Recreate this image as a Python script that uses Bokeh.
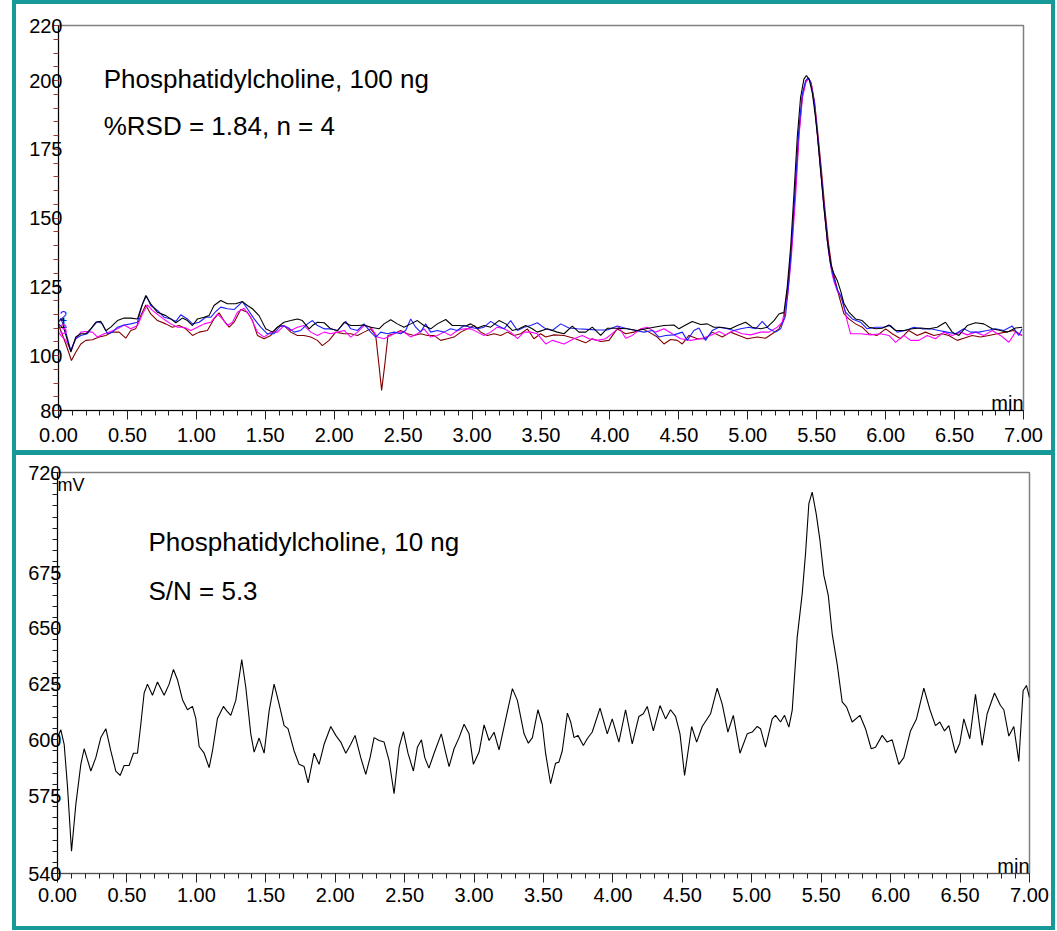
from bokeh.plotting import figure
from bokeh.layouts import column, row
from bokeh.models import (Range1d, SingleIntervalTicker, FixedTicker, Label, Spacer)
from bokeh.embed import file_html
from bokeh.resources import INLINE

# ---------------- data ----------------
x_tick_labels = ["0.00", "0.50", "1.00", "1.50", "2.00", "2.50", "3.00", "3.50",
                 "4.00", "4.50", "5.00", "5.50", "6.00", "6.50", "7.00"]
x_tick_values = [0.0, 0.5, 1.0, 1.5, 2.0, 2.5, 3.0, 3.5, 4.0, 4.5, 5.0, 5.5, 6.0, 6.5, 7.0]
top_y_ticks = [80, 100, 125, 150, 175, 200, 220]
bottom_y_ticks = [540, 575, 600, 625, 650, 675, 720]

# 100 ng, run 1 (black)
run1_black = [
    (0.00, 111.5), (0.04, 109.7), (0.09, 101.2), (0.125, 106.7), (0.162, 107.9), (0.198, 107.9),
    (0.234, 109.7), (0.27, 112.1), (0.307, 112.4), (0.343, 109.0), (0.379, 110.3), (0.428, 112.7),
    (0.476, 113.6), (0.524, 113.6), (0.573, 113.3), (0.597, 117.0), (0.633, 121.8), (0.669, 118.8),
    (0.718, 115.7), (0.778, 114.5), (0.815, 113.3), (0.851, 111.9), (0.899, 113.6), (0.935, 112.7),
    (0.972, 110.9), (1.008, 113.3), (1.056, 113.9), (1.092, 114.5), (1.128, 118.2), (1.177, 120.0),
    (1.225, 118.8), (1.286, 118.8), (1.334, 119.6), (1.37, 118.2), (1.407, 117.0), (1.455, 114.5),
    (1.503, 109.7), (1.552, 108.5), (1.588, 110.3), (1.636, 112.1), (1.685, 112.7), (1.733, 113.3),
    (1.769, 112.7), (1.818, 109.7), (1.842, 110.9), (1.878, 112.1), (1.927, 111.9), (1.975, 109.7),
    (2.024, 109.0), (2.072, 112.1), (2.12, 110.9), (2.169, 110.9), (2.216, 111.1), (2.265, 110.3),
    (2.325, 109.7), (2.361, 111.5), (2.41, 113.0), (2.458, 111.5), (2.506, 110.3), (2.555, 111.5),
    (2.603, 112.7), (2.651, 110.9), (2.70, 109.7), (2.748, 111.5), (2.809, 113.1), (2.857, 110.9),
    (2.905, 110.9), (2.954, 110.7), (2.99, 111.5), (3.039, 110.0), (3.087, 110.9), (3.135, 110.3),
    (3.195, 112.7), (3.245, 111.5), (3.292, 109.1), (3.341, 109.7), (3.389, 110.9), (3.437, 109.7),
    (3.473, 108.5), (3.546, 109.7), (3.618, 108.5), (3.667, 107.9), (3.727, 110.7), (3.775, 108.5),
    (3.824, 108.5), (3.872, 110.3), (3.933, 107.3), (3.981, 109.9), (4.053, 109.9), (4.126, 109.7),
    (4.198, 109.1), (4.259, 109.7), (4.319, 110.3), (4.392, 110.9), (4.464, 111.1), (4.501, 109.7),
    (4.549, 111.1), (4.597, 112.4), (4.658, 111.3), (4.706, 111.5), (4.754, 110.3), (4.803, 110.3),
    (4.875, 109.7), (4.924, 110.9), (4.984, 112.1), (5.032, 110.3), (5.093, 109.7), (5.141, 110.3),
    (5.19, 112.7), (5.226, 115.1), (5.25, 115.5), (5.262, 115.5), (5.286, 124.8), (5.311, 139.4),
    (5.335, 158.8), (5.359, 179.4), (5.383, 193.9), (5.407, 200.5), (5.425, 201.8), (5.445, 200.5),
    (5.468, 195.5), (5.49, 187.0), (5.504, 180.6), (5.528, 167.3), (5.552, 154.0), (5.577, 141.8),
    (5.601, 133.3), (5.625, 129.7), (5.649, 127.3), (5.673, 123.6), (5.697, 119.0), (5.733, 115.8),
    (5.782, 113.3), (5.83, 112.7), (5.879, 110.3), (5.927, 109.7), (5.975, 109.9), (6.024, 111.1),
    (6.072, 109.1), (6.132, 109.1), (6.193, 109.7), (6.253, 110.0), (6.314, 109.7), (6.374, 110.3),
    (6.434, 112.1), (6.483, 108.5), (6.531, 107.3), (6.592, 110.9), (6.652, 111.9), (6.712, 111.5),
    (6.773, 109.7), (6.833, 109.1), (6.882, 108.5), (6.942, 110.0), (6.99, 110.3)]

# 100 ng, run 2 (blue)
run2_blue = [
    (0.00, 112.0), (0.017, 113.5), (0.053, 108.5), (0.089, 101.8), (0.125, 106.1), (0.162, 107.3),
    (0.21, 107.9), (0.246, 110.3), (0.283, 112.4), (0.319, 111.5), (0.355, 107.9), (0.391, 108.5),
    (0.428, 110.3), (0.476, 111.1), (0.524, 111.5), (0.573, 112.1), (0.609, 118.8), (0.638, 121.6),
    (0.669, 118.2), (0.718, 116.4), (0.766, 113.9), (0.815, 113.3), (0.851, 112.4), (0.887, 114.8),
    (0.935, 113.3), (0.972, 111.5), (1.02, 112.1), (1.068, 113.9), (1.104, 113.9), (1.141, 116.0),
    (1.177, 117.6), (1.225, 117.0), (1.274, 116.7), (1.334, 119.6), (1.37, 117.0), (1.419, 113.3),
    (1.467, 110.3), (1.515, 107.9), (1.564, 107.9), (1.612, 110.9), (1.661, 110.3), (1.709, 108.5),
    (1.757, 109.1), (1.806, 111.5), (1.842, 112.7), (1.878, 110.9), (1.927, 109.7), (1.975, 109.7),
    (2.024, 109.1), (2.083, 112.4), (2.12, 109.7), (2.169, 109.1), (2.216, 111.5), (2.265, 108.5),
    (2.301, 106.7), (2.337, 108.5), (2.386, 107.9), (2.434, 108.5), (2.482, 107.9), (2.518, 109.1),
    (2.555, 113.3), (2.591, 110.3), (2.627, 108.5), (2.663, 111.5), (2.70, 108.5), (2.748, 109.1),
    (2.796, 108.5), (2.845, 109.7), (2.893, 109.1), (2.942, 110.9), (2.99, 110.3), (3.039, 109.7),
    (3.087, 110.3), (3.135, 112.4), (3.183, 110.9), (3.232, 109.7), (3.28, 112.7), (3.329, 109.1),
    (3.377, 110.3), (3.425, 110.9), (3.473, 111.9), (3.534, 109.7), (3.582, 109.1), (3.643, 111.5),
    (3.703, 110.0), (3.763, 109.7), (3.836, 109.5), (3.908, 109.3), (3.981, 109.3), (4.053, 110.7),
    (4.126, 109.7), (4.186, 109.1), (4.247, 108.5), (4.307, 109.1), (4.356, 106.7), (4.404, 107.3),
    (4.464, 107.5), (4.525, 108.5), (4.561, 105.5), (4.609, 109.1), (4.646, 110.0), (4.694, 105.5),
    (4.742, 109.1), (4.791, 110.3), (4.851, 109.7), (4.899, 109.1), (4.948, 109.7), (5.008, 110.3),
    (5.057, 109.7), (5.105, 112.4), (5.153, 109.7), (5.202, 108.5), (5.238, 109.7), (5.274, 114.5),
    (5.30, 128.0), (5.32, 142.0), (5.345, 162.0), (5.37, 182.0), (5.395, 195.0), (5.42, 200.0),
    (5.437, 201.0), (5.455, 199.5), (5.48, 193.0), (5.504, 181.0), (5.528, 168.0), (5.552, 155.0),
    (5.577, 142.0), (5.601, 133.0), (5.625, 128.0), (5.649, 124.0), (5.673, 121.8), (5.709, 115.8),
    (5.758, 113.3), (5.818, 112.1), (5.866, 109.7), (5.927, 110.3), (5.987, 110.3), (6.036, 110.9),
    (6.084, 108.5), (6.144, 109.1), (6.205, 110.3), (6.265, 109.7), (6.326, 109.7), (6.386, 109.1),
    (6.446, 108.5), (6.507, 107.9), (6.567, 109.7), (6.616, 108.5), (6.676, 108.5), (6.737, 109.1),
    (6.797, 109.7), (6.857, 109.1), (6.918, 110.7), (6.966, 107.3), (6.99, 109.7)]

# 100 ng, run 3 (magenta)
run3_magenta = [
    (0.00, 108.5), (0.017, 107.3), (0.053, 105.5), (0.089, 101.8), (0.125, 106.1), (0.162, 108.5),
    (0.198, 108.7), (0.246, 108.5), (0.283, 106.7), (0.331, 107.9), (0.379, 108.7), (0.428, 109.7),
    (0.476, 111.1), (0.524, 109.7), (0.573, 110.9), (0.609, 115.1), (0.645, 118.4), (0.681, 116.4),
    (0.73, 114.5), (0.778, 112.7), (0.815, 111.5), (0.863, 110.3), (0.911, 110.3), (0.96, 109.1),
    (1.008, 110.3), (1.056, 111.5), (1.104, 112.1), (1.153, 115.1), (1.189, 113.3), (1.225, 110.9),
    (1.262, 112.1), (1.298, 115.7), (1.346, 117.2), (1.394, 113.9), (1.443, 108.5), (1.491, 106.7),
    (1.54, 108.5), (1.588, 108.5), (1.636, 110.9), (1.685, 109.1), (1.733, 110.3), (1.781, 110.9),
    (1.83, 108.5), (1.878, 107.3), (1.927, 108.5), (1.975, 107.9), (2.024, 108.5), (2.072, 109.1),
    (2.12, 106.7), (2.169, 108.5), (2.216, 110.9), (2.265, 110.3), (2.313, 106.7), (2.361, 106.1),
    (2.41, 107.3), (2.458, 108.5), (2.506, 108.5), (2.555, 106.7), (2.603, 107.9), (2.651, 109.7),
    (2.70, 106.7), (2.748, 107.3), (2.796, 108.5), (2.845, 107.3), (2.893, 109.1), (2.942, 109.7),
    (2.99, 109.7), (3.039, 108.5), (3.087, 107.3), (3.135, 108.5), (3.183, 110.3), (3.232, 109.7),
    (3.28, 108.5), (3.329, 106.1), (3.377, 108.5), (3.425, 108.5), (3.473, 107.9), (3.534, 104.2),
    (3.582, 105.5), (3.667, 104.2), (3.739, 106.1), (3.80, 107.3), (3.848, 106.1), (3.908, 105.5),
    (3.969, 106.1), (4.029, 108.5), (4.066, 110.3), (4.114, 106.3), (4.162, 107.3), (4.223, 109.7),
    (4.271, 110.3), (4.331, 108.5), (4.392, 109.7), (4.452, 107.9), (4.513, 106.1), (4.585, 105.5),
    (4.658, 106.1), (4.73, 107.3), (4.791, 108.7), (4.839, 107.5), (4.899, 109.1), (4.96, 107.9),
    (5.02, 107.5), (5.093, 108.5), (5.153, 108.5), (5.214, 110.3), (5.25, 112.1), (5.29, 122.0),
    (5.315, 135.0), (5.347, 158.0), (5.372, 180.0), (5.397, 194.0), (5.422, 199.5), (5.44, 200.8),
    (5.46, 199.0), (5.485, 191.0), (5.51, 178.0), (5.535, 164.0), (5.56, 150.0), (5.585, 138.0),
    (5.61, 130.0), (5.625, 127.0), (5.649, 123.5), (5.685, 120.6), (5.721, 112.5), (5.746, 107.9),
    (5.77, 107.9), (5.818, 107.9), (5.891, 107.5), (5.963, 107.9), (6.024, 107.3), (6.072, 104.8),
    (6.132, 107.3), (6.181, 105.5), (6.241, 105.5), (6.301, 107.3), (6.362, 106.1), (6.422, 108.5),
    (6.483, 107.3), (6.543, 108.5), (6.592, 107.5), (6.652, 108.5), (6.712, 107.3), (6.773, 109.1),
    (6.833, 107.3), (6.894, 104.8), (6.942, 108.5), (6.99, 107.3)]

# 100 ng, run 4 (dark red)
run4_darkred = [
    (0.00, 111.0), (0.017, 109.1), (0.053, 104.2), (0.094, 98.2), (0.125, 101.2), (0.162, 104.2),
    (0.198, 105.5), (0.246, 105.7), (0.295, 106.7), (0.343, 107.3), (0.391, 108.5), (0.44, 108.5),
    (0.488, 106.3), (0.524, 109.1), (0.56, 109.7), (0.597, 114.5), (0.633, 118.4), (0.669, 115.1),
    (0.718, 112.7), (0.778, 111.5), (0.826, 110.3), (0.875, 110.9), (0.923, 109.7), (0.972, 107.3),
    (1.02, 108.5), (1.08, 109.1), (1.128, 113.3), (1.165, 115.5), (1.20, 112.7), (1.238, 110.3),
    (1.274, 112.1), (1.322, 116.7), (1.37, 115.7), (1.407, 112.7), (1.443, 107.3), (1.491, 106.1),
    (1.54, 107.3), (1.588, 110.3), (1.636, 110.9), (1.685, 108.5), (1.733, 107.3), (1.781, 107.3),
    (1.83, 106.7), (1.878, 105.5), (1.914, 103.6), (1.963, 105.5), (2.011, 108.5), (2.072, 107.9),
    (2.12, 107.9), (2.169, 107.3), (2.216, 108.5), (2.265, 109.7), (2.301, 107.3), (2.325, 96.4),
    (2.344, 87.3), (2.369, 97.6), (2.39, 107.3), (2.434, 107.9), (2.482, 109.1), (2.531, 107.9),
    (2.579, 107.3), (2.627, 107.9), (2.676, 107.3), (2.724, 107.3), (2.772, 105.5), (2.821, 106.1),
    (2.869, 106.7), (2.918, 108.5), (2.966, 109.7), (3.015, 110.9), (3.063, 108.5), (3.111, 107.3),
    (3.159, 107.9), (3.208, 107.3), (3.256, 108.5), (3.304, 107.3), (3.353, 107.9), (3.401, 109.7),
    (3.449, 106.1), (3.497, 107.9), (3.534, 106.7), (3.594, 107.5), (3.667, 107.3), (3.739, 106.3),
    (3.824, 104.6), (3.872, 106.1), (3.933, 105.1), (3.993, 105.5), (4.053, 109.7), (4.114, 107.9),
    (4.174, 108.5), (4.235, 109.7), (4.283, 108.5), (4.344, 106.7), (4.392, 104.2), (4.44, 105.8),
    (4.489, 105.5), (4.525, 104.2), (4.573, 107.3), (4.634, 106.1), (4.694, 106.1), (4.742, 108.5),
    (4.815, 106.7), (4.875, 108.5), (4.936, 107.3), (4.996, 106.1), (5.069, 106.7), (5.129, 106.3),
    (5.177, 107.9), (5.226, 109.7), (5.262, 113.3), (5.29, 125.0), (5.318, 140.0), (5.345, 160.0),
    (5.37, 180.0), (5.395, 194.0), (5.42, 199.5), (5.44, 200.8), (5.46, 199.0), (5.485, 192.0),
    (5.51, 180.0), (5.535, 167.0), (5.56, 153.0), (5.585, 141.0), (5.61, 132.0), (5.635, 127.0),
    (5.66, 122.0), (5.697, 115.2), (5.733, 113.3), (5.782, 111.5), (5.83, 110.3), (5.879, 107.9),
    (5.939, 107.3), (6.0, 109.7), (6.048, 107.9), (6.108, 106.1), (6.168, 109.1), (6.229, 107.3),
    (6.289, 108.5), (6.35, 107.3), (6.41, 107.9), (6.458, 107.3), (6.519, 105.5), (6.567, 106.3),
    (6.628, 107.3), (6.688, 106.7), (6.749, 107.3), (6.809, 107.9), (6.869, 108.5), (6.93, 109.1),
    (6.99, 107.3)]

# 10 ng (black)
run_10ng = [
    (0.0, 601.0), (0.024, 604.5), (0.048, 598.0), (0.072, 579.0), (0.101, 550.0), (0.132, 571.0),
    (0.168, 589.0), (0.192, 596.0), (0.216, 591.0), (0.24, 586.0), (0.276, 592.0), (0.312, 601.0),
    (0.348, 605.0), (0.384, 595.0), (0.42, 586.0), (0.451, 584.0), (0.48, 588.5), (0.516, 588.5),
    (0.547, 594.0), (0.576, 594.0), (0.60, 607.0), (0.624, 621.0), (0.648, 625.0), (0.684, 620.0),
    (0.72, 626.0), (0.768, 620.0), (0.804, 625.0), (0.835, 631.6), (0.864, 627.0), (0.90, 618.0),
    (0.936, 613.5), (0.972, 615.0), (0.996, 609.6), (1.02, 597.0), (1.056, 594.0), (1.092, 587.5),
    (1.116, 595.0), (1.152, 609.6), (1.195, 615.0), (1.219, 613.0), (1.248, 611.0), (1.284, 617.7),
    (1.308, 628.0), (1.327, 636.0), (1.356, 623.6), (1.392, 602.7), (1.416, 594.5), (1.452, 600.8),
    (1.488, 594.0), (1.524, 613.0), (1.56, 625.0), (1.596, 616.0), (1.632, 606.4), (1.66, 605.0),
    (1.704, 595.0), (1.74, 589.0), (1.776, 588.0), (1.805, 580.7), (1.848, 594.0), (1.884, 589.0),
    (1.92, 598.0), (1.968, 606.0), (2.004, 602.0), (2.04, 599.0), (2.076, 594.0), (2.112, 598.0),
    (2.143, 602.0), (2.184, 592.0), (2.22, 584.5), (2.251, 592.0), (2.28, 601.0), (2.316, 599.7),
    (2.352, 599.0), (2.388, 590.7), (2.424, 575.8), (2.46, 596.7), (2.491, 603.7), (2.524, 594.0),
    (2.563, 586.0), (2.592, 596.7), (2.621, 600.0), (2.645, 592.0), (2.675, 587.3), (2.712, 594.0),
    (2.764, 602.7), (2.796, 594.0), (2.82, 588.0), (2.856, 596.0), (2.892, 601.0), (2.928, 607.0),
    (2.964, 602.7), (2.995, 589.0), (3.036, 594.5), (3.072, 606.7), (3.108, 599.7), (3.144, 603.4),
    (3.18, 595.5), (3.22, 607.0), (3.276, 623.0), (3.312, 617.7), (3.36, 602.7), (3.391, 598.5),
    (3.42, 601.0), (3.46, 613.5), (3.491, 607.0), (3.515, 594.0), (3.551, 580.3), (3.587, 589.5),
    (3.611, 590.0), (3.635, 595.0), (3.672, 612.0), (3.696, 608.0), (3.72, 601.0), (3.748, 602.0),
    (3.787, 597.5), (3.815, 600.5), (3.851, 603.5), (3.907, 614.2), (3.959, 602.7), (3.995, 609.4),
    (4.043, 599.0), (4.091, 613.5), (4.139, 598.2), (4.187, 610.5), (4.219, 611.7), (4.247, 615.0),
    (4.291, 604.0), (4.339, 615.4), (4.379, 609.4), (4.415, 613.5), (4.451, 610.5), (4.483, 602.7),
    (4.516, 584.0), (4.567, 606.0), (4.603, 599.0), (4.643, 606.0), (4.703, 611.7), (4.751, 623.2),
    (4.787, 616.0), (4.828, 603.5), (4.867, 611.0), (4.915, 594.0), (4.967, 602.7), (5.003, 603.5),
    (5.039, 606.0), (5.063, 605.0), (5.099, 596.7), (5.147, 609.4), (5.171, 611.0), (5.207, 608.0),
    (5.236, 611.0), (5.267, 605.7), (5.291, 613.2), (5.327, 646.0), (5.363, 665.5), (5.387, 683.5),
    (5.411, 706.0), (5.435, 711.2), (5.464, 701.4), (5.491, 689.5), (5.519, 673.8), (5.551, 664.8),
    (5.579, 647.6), (5.615, 634.0), (5.651, 617.0), (5.683, 614.7), (5.723, 608.0), (5.779, 611.0),
    (5.819, 605.0), (5.86, 596.0), (5.891, 596.7), (5.939, 602.0), (5.975, 599.0), (6.011, 600.0),
    (6.059, 589.0), (6.095, 592.0), (6.143, 604.0), (6.186, 609.4), (6.239, 623.2), (6.283, 613.5),
    (6.323, 606.4), (6.354, 608.0), (6.388, 604.0), (6.419, 606.4), (6.467, 594.0), (6.498, 598.5),
    (6.527, 609.4), (6.57, 600.5), (6.611, 620.4), (6.659, 597.5), (6.695, 611.7), (6.748, 621.0),
    (6.791, 615.4), (6.815, 613.5), (6.851, 601.7), (6.887, 606.0), (6.923, 590.3), (6.954, 622.0),
    (6.978, 624.4), (7.0, 619.0)]

# ---------------- styling ----------------
FONT = "Liberation Sans"
TEAL = "#17999a"
TICK_FS = "20px"
TEXT_FS = "26px"
W = 1035
H1 = 446
H2 = 471


def make_panel(height, yr, yticks, ymin_ticks, left, right, top, bottom,
               ytick_color, xaxis_color, x_standoff):
    p = figure(width=W, height=height, x_range=Range1d(0, 7), y_range=Range1d(*yr),
               output_backend="svg", toolbar_location=None,
               min_border_left=left, min_border_right=right,
               min_border_top=top, min_border_bottom=bottom)
    p.xgrid.visible = False
    p.ygrid.visible = False
    p.outline_line_color = "#808080"
    p.outline_line_width = 1.5
    p.background_fill_color = "white"
    p.border_fill_color = "white"
    xa = p.xaxis[0]
    xa.ticker = SingleIntervalTicker(interval=0.5, num_minor_ticks=5)
    xa.major_label_overrides = {v: s for v, s in zip(x_tick_values, x_tick_labels)}
    xa.major_tick_in = 0
    xa.major_tick_out = 9
    xa.minor_tick_in = 0
    xa.minor_tick_out = 5
    xa.major_label_standoff = x_standoff
    xa.major_label_text_font = FONT
    xa.major_label_text_font_size = TICK_FS
    xa.major_label_text_color = "black"
    xa.axis_line_color = xaxis_color
    xa.major_tick_line_color = "#202020"
    xa.minor_tick_line_color = "#202020"
    ya = p.yaxis[0]
    ya.ticker = FixedTicker(ticks=yticks, minor_ticks=ymin_ticks)
    ya.major_tick_in = 0
    ya.major_tick_out = 5
    ya.minor_tick_in = 0
    ya.minor_tick_out = 5
    ya.major_label_standoff = -9
    ya.major_label_text_font = FONT
    ya.major_label_text_font_size = TICK_FS
    ya.major_label_text_color = "black"
    ya.axis_line_color = "black"
    ya.major_tick_line_color = ytick_color
    ya.minor_tick_line_color = ytick_color
    return p


def bar(w, h):
    return Spacer(width=w, height=h, styles={"background-color": TEAL})


# ---- top panel ----
p1 = make_panel(H1, (80, 220), top_y_ticks, list(range(80, 221, 5)),
                42, 28, 21, 40, "#9a3a3a", "black", 8)
for pts, col in [(run4_darkred, "#800000"), (run3_magenta, "#ff00ff"),
                 (run2_blue, "#1f1fff"), (run1_black, "black")]:
    p1.line([a for a, b in pts], [b for a, b in pts], line_color=col, line_width=1.1)
p1.add_layout(Label(x=7, y=80, text="min", text_align="right", text_baseline="bottom",
                    y_offset=-3, text_font=FONT, text_font_size=TICK_FS, text_color="black"))
p1.add_layout(Label(x=0.328, y=200.7, text="Phosphatidylcholine, 100 ng", text_font=FONT,
                    text_font_size=TEXT_FS, text_baseline="alphabetic", text_color="black"))
p1.add_layout(Label(x=0.328, y=183.3, text="%RSD = 1.84, n = 4", text_font=FONT,
                    text_font_size=TEXT_FS, text_baseline="alphabetic", text_color="black"))
for txt, yy, col in [("2", 114.5, "#1f1fff"), ("1", 112.0, "black"), ("3", 109.5, "#ff00ff")]:
    p1.add_layout(Label(x=0.0, y=yy, text=txt, x_offset=1, text_font=FONT, text_font_size="14px",
                        text_color=col, text_baseline="middle"))

# ---- bottom panel ----
p2 = make_panel(H2, (540, 720), bottom_y_ticks, list(range(540, 721, 5)),
                41, 22, 17, 53, "#202020", "#505050", 5)
p2.line([a for a, b in run_10ng], [b for a, b in run_10ng], line_color="black", line_width=1.1)
p2.add_layout(Label(x=7, y=540, text="min", text_align="right", text_baseline="bottom",
                    y_offset=-3, text_font=FONT, text_font_size=TICK_FS, text_color="black"))
p2.add_layout(Label(x=0, y=720, text="mV", x_offset=0, y_offset=-2, text_align="left",
                    text_baseline="top", text_font=FONT, text_font_size="18px", text_color="black"))
p2.add_layout(Label(x=0.655, y=688.6, text="Phosphatidylcholine, 10 ng", text_font=FONT,
                    text_font_size=TEXT_FS, text_baseline="alphabetic", text_color="black"))
p2.add_layout(Label(x=0.655, y=667.0, text="S/N = 5.3", text_font=FONT,
                    text_font_size=TEXT_FS, text_baseline="alphabetic", text_color="black"))

framed = column(
    bar(W + 8, 4),
    row(bar(4, H1), p1, bar(4, H1), spacing=0),
    bar(W + 8, 5),
    row(bar(4, H2), p2, bar(4, H2), spacing=0),
    bar(W + 8, 4),
    spacing=0)
layout = row(Spacer(width=12), framed, spacing=0)
open("out.html", "w").write(file_html(layout, INLINE))
